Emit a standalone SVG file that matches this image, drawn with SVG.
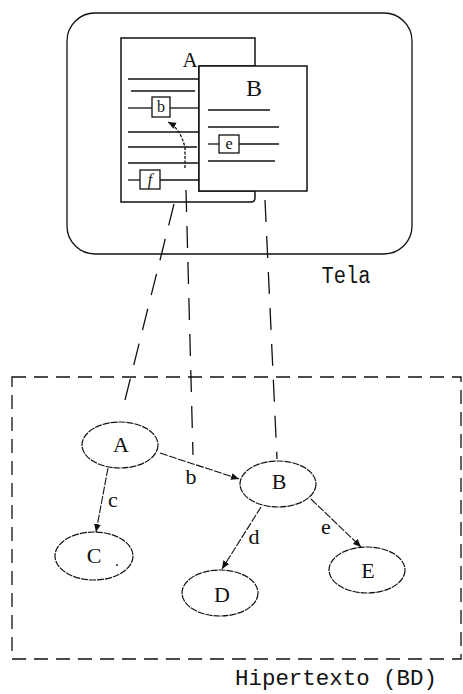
<svg xmlns="http://www.w3.org/2000/svg" width="463" height="694" viewBox="0 0 463 694">
<defs>
<style>
.ln{stroke:#111;stroke-width:1.3;fill:none}
.pg{stroke:#111;stroke-width:1.5;fill:#fff}
.nd{stroke:#111;stroke-width:1.2;fill:#fff;stroke-dasharray:7,1}
.ed{stroke:#111;stroke-width:1.1;fill:none;stroke-dasharray:8,1.5}
.proj{stroke:#111;stroke-width:1.3;fill:none;stroke-dasharray:22,14}
.tx{font-family:"Liberation Serif","DejaVu Serif",serif;fill:#111;text-anchor:middle}
.mono{font-family:"Liberation Mono","DejaVu Sans Mono",monospace;fill:#111;text-anchor:middle}
</style>
<marker id="ah" markerUnits="userSpaceOnUse" markerWidth="9" markerHeight="8" refX="8" refY="4" orient="auto">
<path d="M0,0.5 L8,4 L0,7.5 Z" fill="#111"/>
</marker>
</defs>

<g id="screen">
<rect x="67" y="13" width="345" height="241" rx="28" ry="28" class="ln" stroke-width="1.6"/>
<text class="mono" x="346" y="283" font-size="23" textLength="49" lengthAdjust="spacingAndGlyphs">Tela</text>
</g>

<g id="docA">
<path class="pg" d="M121,38 H255 V66 H199 V191 H255 V198 Q255,202 251,202 H121 Z"/>
<text class="tx" x="190" y="67" font-size="21">A</text>
<g class="ln">
<line x1="128" y1="79" x2="199" y2="79"/>
<line x1="131" y1="91" x2="195" y2="91"/>
<line x1="128" y1="108" x2="152" y2="108"/>
<line x1="170" y1="108" x2="199" y2="108"/>
<line x1="128" y1="132" x2="199" y2="132"/>
<line x1="128" y1="147" x2="197" y2="147"/>
<line x1="128" y1="163" x2="198" y2="163"/>
<line x1="128" y1="180" x2="140" y2="180"/>
<line x1="160" y1="180" x2="199" y2="180"/>
</g>
<rect x="152" y="97" width="18" height="20" class="ln"/>
<text class="tx" x="161" y="112" font-size="16">b</text>
<rect x="140" y="170" width="20" height="19" class="ln"/>
<text class="tx" x="150" y="185" font-size="16" font-style="italic">f</text>
</g>

<g id="docB">
<rect x="199" y="66" width="108" height="125" class="pg"/>
<text class="tx" x="254" y="96" font-size="24">B</text>
<g class="ln">
<line x1="208" y1="110" x2="270" y2="110"/>
<line x1="208" y1="127" x2="279" y2="127"/>
<line x1="208" y1="144" x2="219" y2="144"/>
<line x1="239" y1="144" x2="279" y2="144"/>
<line x1="208" y1="161" x2="275" y2="161"/>
</g>
<rect x="219" y="135" width="20" height="18" class="ln"/>
<text class="tx" x="229" y="149" font-size="16">e</text>
</g>

<g id="connectors">
<path d="M185,168 L185,148 Q181,129 168,122" class="ln" stroke-width="1" stroke-dasharray="3,1.5" marker-end="url(#ah)"/>
<line x1="174" y1="204" x2="122" y2="412" class="proj"/>
<line x1="186" y1="190" x2="193" y2="455" class="proj"/>
<line x1="265" y1="200" x2="277" y2="459" class="proj"/>
<line x1="160" y1="453" x2="239" y2="479" class="ed" marker-end="url(#ah)"/>
<line x1="108" y1="468" x2="96" y2="532" class="ed" marker-end="url(#ah)"/>
<line x1="261" y1="507" x2="222" y2="569" class="ed" marker-end="url(#ah)"/>
<line x1="311" y1="499" x2="361" y2="547" class="ed" marker-end="url(#ah)"/>
<text class="tx" x="191" y="484" font-size="22">b</text>
<text class="tx" x="113" y="507" font-size="22">c</text>
<text class="tx" x="254" y="544" font-size="22">d</text>
<text class="tx" x="326" y="534" font-size="22">e</text>
</g>

<g id="hypertext">
<rect x="12" y="377" width="449" height="282" class="ln" stroke-dasharray="14,8"/>
<text class="mono" x="336" y="685" font-size="22" textLength="202" lengthAdjust="spacingAndGlyphs">Hipertexto (BD)</text>
</g>

<g id="nodeA">
<ellipse cx="120" cy="445" rx="38" ry="23" class="nd"/>
<text class="tx" x="121" y="452" font-size="22">A</text>
</g>
<g id="nodeB">
<ellipse cx="278" cy="484" rx="38" ry="23" class="nd"/>
<text class="tx" x="279" y="489" font-size="22">B</text>
</g>
<g id="nodeC">
<ellipse cx="94" cy="556" rx="39" ry="24" class="nd"/>
<text class="tx" x="94" y="563" font-size="22">C</text>
<circle cx="117" cy="565" r="0.9" fill="#111"/>
</g>
<g id="nodeD">
<ellipse cx="220" cy="593" rx="38" ry="23" class="nd"/>
<text class="tx" x="222" y="602" font-size="22">D</text>
</g>
<g id="nodeE">
<ellipse cx="367" cy="570" rx="38" ry="23" class="nd"/>
<text class="tx" x="368" y="578" font-size="22">E</text>
</g>
</svg>
